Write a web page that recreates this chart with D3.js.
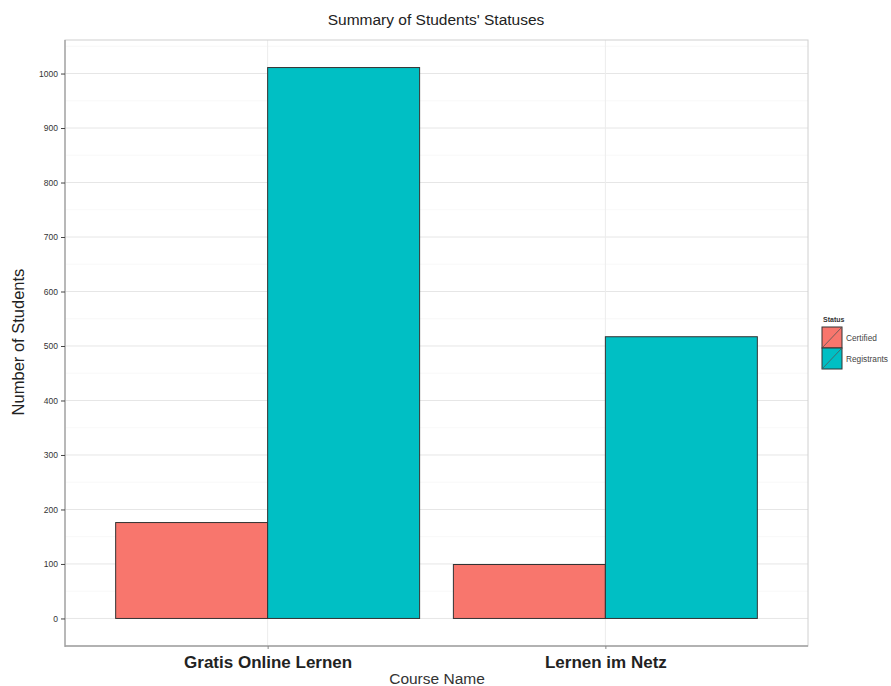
<!DOCTYPE html>
<html><head><meta charset="utf-8">
<script src="https://cdn.jsdelivr.net/npm/d3@7"></script>
<style>body{margin:0;background:#fff;}svg{display:block;font-family:"Liberation Sans",Arial,sans-serif;}</style>
</head><body>
<svg id="c" width="891" height="686"></svg>
<script>
const courses = ["Gratis Online Lernen", "Lernen im Netz"];
const statuses = ["Certified", "Registrants"];
const certified = [176, 99];
const registrants = [1011, 517];
const yTicks = [0,100,200,300,400,500,600,700,800,900,1000];
const colors = ["#F8766D", "#00BFC4"];

const svg = d3.select("#c");
const L = 65, R = 808, T = 40, B = 646;
const rows = [];
courses.forEach((c,i)=>{ rows.push({course:c,status:statuses[0],v:certified[i]}); rows.push({course:c,status:statuses[1],v:registrants[i]}); });
const maxV = d3.max(rows, d=>d.v);
const y = d3.scaleLinear().domain([-0.05*maxV, maxV*1.05]).range([B, T]);
const xc = d3.scaleLinear().domain([0.4, 2.6]).range([L, R]);
const xpos = c => xc(courses.indexOf(c)+1);
const barW = xc(1.45) - xc(1);

svg.append("rect").attr("x",L).attr("y",T).attr("width",R-L).attr("height",B-T).attr("fill","#fff");
// minor grid
const minor = d3.range(-50, 1100, 100).filter(v=>y(v)>T && y(v)<B);
svg.append("g").selectAll("line").data(minor).join("line")
  .attr("x1",L).attr("x2",R).attr("y1",d=>y(d)).attr("y2",d=>y(d))
  .attr("stroke","#f4f4f4").attr("stroke-width",0.6);
// major grid
svg.append("g").selectAll("line").data(yTicks).join("line")
  .attr("x1",L).attr("x2",R).attr("y1",d=>y(d)).attr("y2",d=>y(d))
  .attr("stroke","#e6e6e6").attr("stroke-width",1);
svg.append("g").selectAll("line").data(courses).join("line")
  .attr("x1",d=>xpos(d)).attr("x2",d=>xpos(d)).attr("y1",T).attr("y2",B)
  .attr("stroke","#ececec").attr("stroke-width",1);

// bars
svg.append("g").selectAll("rect").data(rows).join("rect")
  .attr("x",d=>xpos(d.course) + (d.status===statuses[0] ? -barW : 0))
  .attr("width",barW)
  .attr("y",d=>y(d.v)).attr("height",d=>y(0)-y(d.v))
  .attr("fill",d=>colors[statuses.indexOf(d.status)])
  .attr("stroke","#333").attr("stroke-width",1);

// panel border
svg.append("rect").attr("x",L).attr("y",T).attr("width",R-L).attr("height",B-T)
  .attr("fill","none").attr("stroke","#d0d0d0").attr("stroke-width",1);
svg.append("line").attr("x1",L).attr("x2",L).attr("y1",T).attr("y2",B+1).attr("stroke","#999").attr("stroke-width",1.2);
svg.append("line").attr("x1",L).attr("x2",R).attr("y1",B).attr("y2",B).attr("stroke","#a0a0a0").attr("stroke-width",1.4);

// y axis
const ya = svg.append("g").attr("transform",`translate(${L},0)`)
  .call(d3.axisLeft(y).tickValues(yTicks).tickFormat(d3.format("d")).tickSize(4).tickPadding(3));
ya.select(".domain").remove();
ya.selectAll("line").attr("stroke","#444");
ya.selectAll("text").attr("font-size","8.5px").attr("fill","#333").attr("font-family","Liberation Sans, Arial, sans-serif");

// x axis
const xa = svg.append("g").attr("transform",`translate(0,${B})`)
  .call(d3.axisBottom(d3.scalePoint().domain(courses).range([xpos(courses[0]), xpos(courses[1])])).tickSize(3).tickPadding(7));
xa.select(".domain").remove();
xa.selectAll("line").attr("stroke","#888");
xa.selectAll("text").attr("font-size","17px").attr("font-weight","bold").attr("fill","#222")
  .attr("font-family","Liberation Sans, Arial, sans-serif");

// titles
svg.append("text").attr("x",436).attr("y",25).attr("text-anchor","middle").attr("font-size","15.5px").attr("fill","#222").text("Summary of Students' Statuses");
svg.append("text").attr("x",437).attr("y",684).attr("text-anchor","middle").attr("font-size","15.5px").attr("fill","#333").text("Course Name");
svg.append("text").attr("transform","translate(24,342) rotate(-90)").attr("text-anchor","middle").attr("font-size","16.5px").attr("fill","#222").text("Number of Students");

// legend
const lg = svg.append("g").attr("transform","translate(822,0)");
lg.append("text").attr("x",1).attr("y",322).attr("font-size","7px").attr("font-weight","bold").attr("fill","#333").text("Status");
const items = lg.selectAll("g.it").data(statuses).join("g").attr("class","it")
  .attr("transform",(d,i)=>`translate(0,${327+i*21})`);
items.append("rect").attr("width",20).attr("height",21).attr("fill",(d,i)=>colors[i]).attr("stroke","#333").attr("stroke-width",1);
items.append("line").attr("x1",0).attr("y1",21).attr("x2",20).attr("y2",0).attr("stroke","#555").attr("stroke-width",0.8);
items.append("text").attr("x",24).attr("y",14).attr("font-size","8.3px").attr("fill","#444").text(d=>d);
</script>
</body></html>
